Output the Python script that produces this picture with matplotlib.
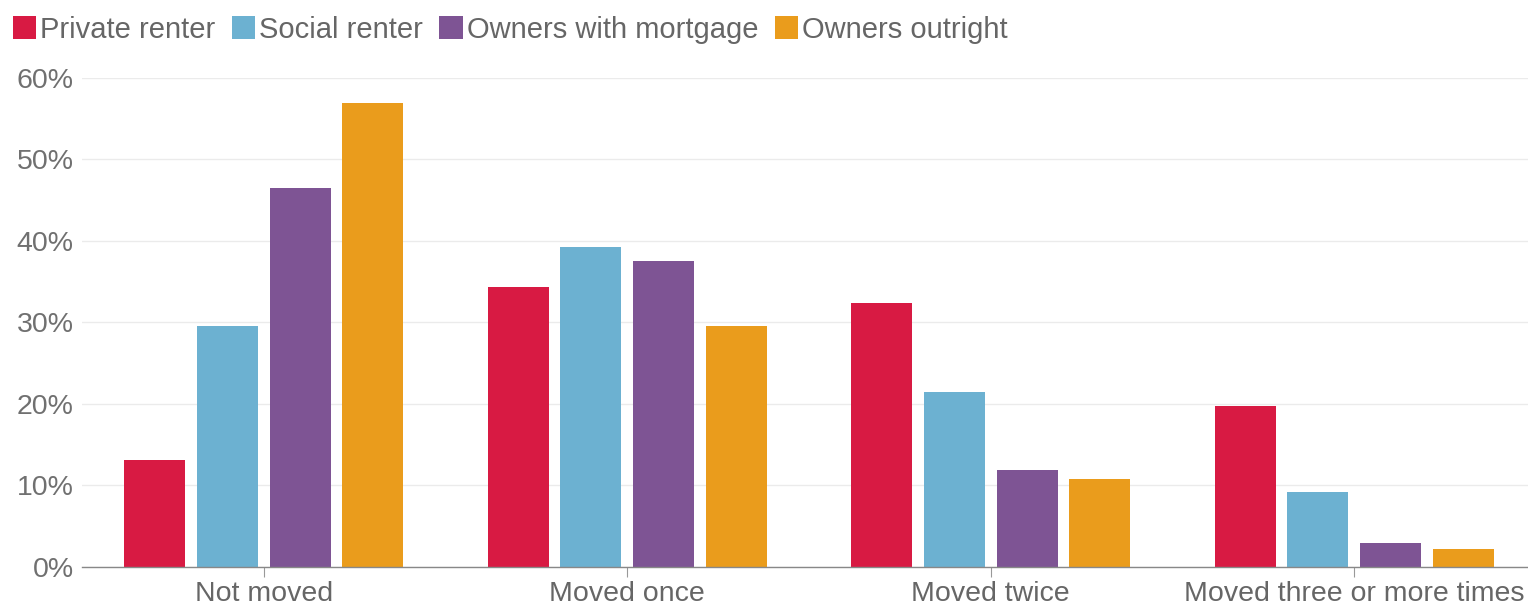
import numpy as np
import matplotlib.pyplot as plt
from matplotlib.patches import Patch
from matplotlib.ticker import FuncFormatter

plt.rcParams['font.family'] = ['Liberation Sans', 'DejaVu Sans']

## Data (share of households, %)
categories = ['Not moved', 'Moved once', 'Moved twice', 'Moved three or more times']
series_names = ['Private renter', 'Social renter', 'Owners with mortgage', 'Owners outright']
private_renter = [13.1, 34.3, 32.4, 19.7]
social_renter = [29.6, 39.2, 21.4, 9.2]
owners_mortgage = [46.5, 37.5, 11.9, 2.9]
owners_outright = [56.9, 29.5, 10.8, 2.2]
y_ticks = [0, 10, 20, 30, 40, 50, 60]

colors = ['#d81a43', '#6cb1d1', '#7e5494', '#ea9c1c']
all_series = [private_renter, social_renter, owners_mortgage, owners_outright]

fig = plt.figure(figsize=(15.28, 6.07), dpi=100)
ax = fig.add_axes([0.0537, 0.066, 0.9463, 0.806])

x = np.arange(len(categories))
offsets = [-0.3, -0.1, 0.1, 0.3]
for vals, off, col in zip(all_series, offsets, colors):
    ax.bar(x + off, vals, width=0.168, color=col, zorder=2)

ax.set_xlim(-0.5, 3.478)
ax.set_ylim(0, 60)
ax.set_yticks(y_ticks)
ax.yaxis.set_major_formatter(FuncFormatter(lambda v, p: '%d%%' % v))
ax.set_xticks(x)
ax.set_xticklabels(categories)

ax.grid(axis='y', color='#ebebeb', linewidth=1, zorder=0)
for s in ['top', 'right', 'left']:
    ax.spines[s].set_visible(False)
ax.spines['bottom'].set_color('#888888')
ax.spines['bottom'].set_linewidth(1)

ax.tick_params(axis='y', length=0, labelsize=20.5, labelcolor='#707070', pad=6)
ax.tick_params(axis='x', length=7, color='#999999', labelsize=20.5, labelcolor='#666666', pad=3)

# legend across the top
handles = [Patch(facecolor=c, edgecolor='none') for c in colors]
fig.legend(handles, series_names, loc='upper left', bbox_to_anchor=(-0.005, 1.008), ncol=4,
           frameon=False, fontsize=21, handlelength=0.8, handleheight=0.8,
           handletextpad=0.15, columnspacing=0.55, labelcolor='#666666', borderaxespad=0.3)

plt.savefig('out.png', dpi=100)
